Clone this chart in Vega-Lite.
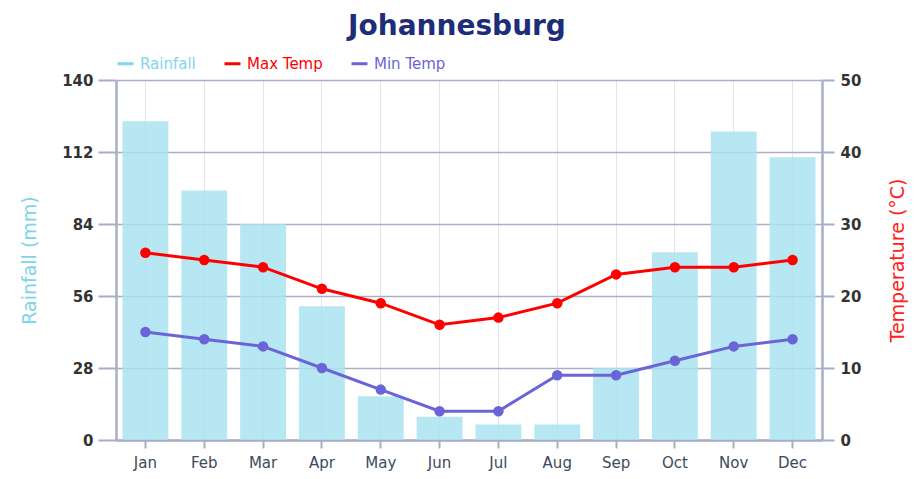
{
  "$schema": "https://vega.github.io/schema/vega-lite/v6.json",
  "width": 706,
  "height": 360,
  "autosize": {"type": "none"},
  "padding": {"left": 116, "top": 80, "right": 99, "bottom": 39},
  "background": "white",
  "title": {"text": "Johannesburg", "fontSize": 28, "font": "DejaVu Sans", "fontWeight": "bold", "color": "#1e2d78", "anchor": "middle", "offset": 13, "dx": -12},
  "data": {"values": [
    {"month": "Jan", "rainfall": 124, "Max Temp": 26, "Min Temp": 15},
    {"month": "Feb", "rainfall": 97, "Max Temp": 25, "Min Temp": 14},
    {"month": "Mar", "rainfall": 84, "Max Temp": 24, "Min Temp": 13},
    {"month": "Apr", "rainfall": 52, "Max Temp": 21, "Min Temp": 10},
    {"month": "May", "rainfall": 17, "Max Temp": 19, "Min Temp": 7},
    {"month": "Jun", "rainfall": 9, "Max Temp": 16, "Min Temp": 4},
    {"month": "Jul", "rainfall": 6, "Max Temp": 17, "Min Temp": 4},
    {"month": "Aug", "rainfall": 6, "Max Temp": 19, "Min Temp": 9},
    {"month": "Sep", "rainfall": 28, "Max Temp": 23, "Min Temp": 9},
    {"month": "Oct", "rainfall": 73, "Max Temp": 24, "Min Temp": 11},
    {"month": "Nov", "rainfall": 120, "Max Temp": 24, "Min Temp": 13},
    {"month": "Dec", "rainfall": 110, "Max Temp": 25, "Min Temp": 14}
  ]},
  "encoding": {
    "x": {
      "field": "month", "type": "nominal", "sort": null,
      "scale": {"paddingInner": 0.22, "paddingOuter": 0.11},
      "axis": {
        "title": null, "labelAngle": 0, "labelFont": "DejaVu Sans", "labelFontSize": 15,
        "labelColor": "#3b4a5e", "tickColor": "#a7aec6", "tickSize": 8, "tickWidth": 2,
        "domainColor": "#a7aec6", "domainWidth": 2.5, "grid": true, "gridColor": "#e2e4ec",
        "gridWidth": 1, "labelPadding": 7
      }
    }
  },
  "layer": [
    {
      "mark": {"type": "bar", "color": "#aae3f0", "opacity": 0.85},
      "encoding": {
        "y": {
          "field": "rainfall", "type": "quantitative",
          "scale": {"domain": [0, 140]},
          "axis": {
            "values": [0, 28, 56, 84, 112, 140], "title": "Rainfall (mm)",
            "titleColor": "#7fd4ea", "titleFontSize": 19, "titleFontWeight": "normal", "titleFont": "DejaVu Sans",
            "titlePadding": 22, "grid": true, "gridColor": "#a7aec6", "gridWidth": 1.5,
            "domainColor": "#a7aec6", "domainWidth": 2.5, "tickColor": "#a7aec6", "tickWidth": 2, "tickSize": 18,
            "labelFont": "DejaVu Sans", "labelFontSize": 15, "labelFontWeight": "bold", "labelColor": "#333333", "labelPadding": 5
          }
        }
      }
    },
    {
      "transform": [{"fold": ["Max Temp", "Min Temp"], "as": ["series", "temp"]}],
      "encoding": {
        "y": {
          "field": "temp", "type": "quantitative",
          "scale": {"domain": [0, 50]},
          "axis": {
            "orient": "right", "values": [0, 10, 20, 30, 40, 50], "title": "Temperature (°C)",
            "titleColor": "#ff2020", "titleFontSize": 19, "titleFontWeight": "normal", "titleFont": "DejaVu Sans",
            "titleAngle": 270, "titleBaseline": "middle", "titleAlign": "center", "titleX": 75, "titleY": 180, "grid": false,
            "domainColor": "#a7aec6", "domainWidth": 2.5, "tickColor": "#a7aec6", "tickWidth": 2, "tickSize": 12,
            "labelFont": "DejaVu Sans", "labelFontSize": 15, "labelFontWeight": "bold", "labelColor": "#333333", "labelPadding": 6
          }
        },
        "color": {
          "field": "series", "type": "nominal",
          "scale": {"domain": ["Rainfall", "Max Temp", "Min Temp"], "range": ["#80d6ec", "#ff0000", "#6b64d8"]},
          "legend": {
            "title": null, "orient": "none", "direction": "horizontal", "legendX": 0, "legendY": -26,
            "symbolType": "stroke", "symbolSize": 256, "symbolStrokeWidth": 3,
            "labelFont": "DejaVu Sans", "labelFontSize": 15, "columnPadding": 22, "labelOffset": 5,
            "encode": {
              "symbols": {"update": {"stroke": {"scale": "color", "field": "value"}, "fill": {"value": "transparent"}, "strokeWidth": {"value": 3}}},
              "labels": {"update": {"fill": {"scale": "color", "field": "value"}}}
            }
          }
        }
      },
      "layer": [
        {"mark": {"type": "line", "strokeWidth": 3}},
        {"mark": {"type": "point", "filled": true, "size": 110, "opacity": 1}}
      ]
    }
  ],
  "resolve": {"scale": {"y": "independent"}},
  "config": {"view": {"stroke": null}}
}
